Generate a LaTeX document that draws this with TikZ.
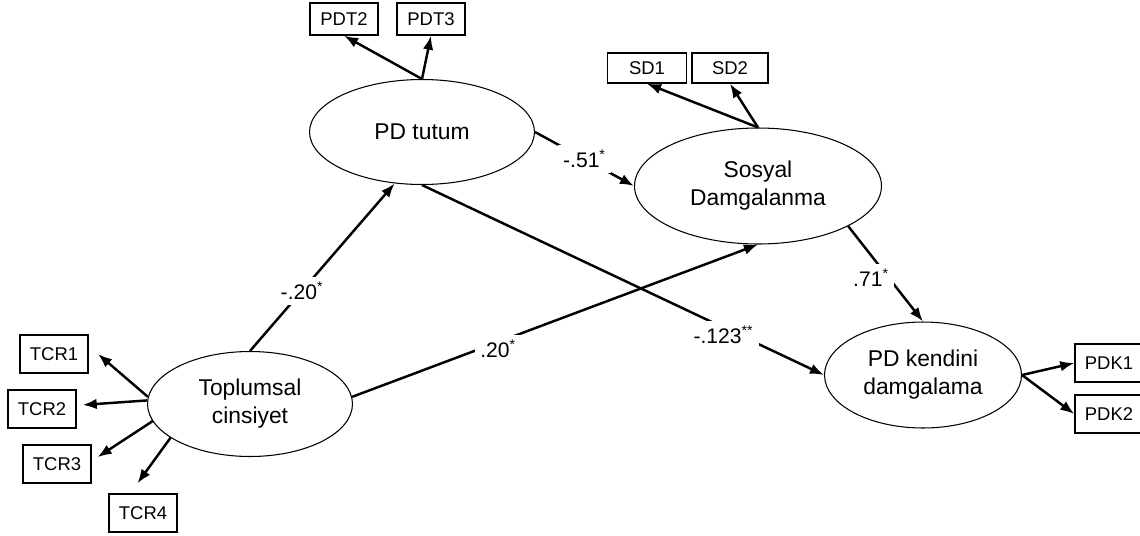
\documentclass[tikz,border=0pt]{standalone}
\usepackage{fontspec}
\setmainfont{Liberation Sans}
\usetikzlibrary{shapes.geometric,arrows.meta}

\begin{document}
\begin{tikzpicture}[x=0.02cm,y=-0.02cm,>={Latex[length=8pt,width=6pt]}]

        \useasboundingbox (0,0) rectangle (1140,535);

        \begin{scope}[every node/.style={ellipse,draw,line width=0.6pt,align=center,inner sep=0pt,font=\fontsize{13}{16}\selectfont}]
          \node[minimum width=4.5cm,minimum height=2.1cm]   (tutum)    at (422,132) {PD tutum};
          \node[minimum width=4.94cm,minimum height=2.32cm] (sosyal)   at (758,186) {Sosyal\\Damgalanma};
          \node[minimum width=4.1cm,minimum height=2.1cm]   (cinsiyet) at (250,404) {Toplumsal\\cinsiyet};
          \node[minimum width=3.94cm,minimum height=2.12cm] (kendini)  at (923,375) {PD kendini\\damgalama};
        \end{scope}

        \begin{scope}[every node/.style={draw,line width=0.8pt,inner sep=0pt,minimum width=1.36cm,minimum height=0.76cm,font=\fontsize{10.5}{12}\selectfont}]
          \node[minimum height=0.64cm] (PDT2) at (344,19)  {PDT2};
          \node[minimum height=0.64cm] (PDT3) at (431,19)  {PDT3};
          \node[minimum width=1.58cm,minimum height=0.6cm] (SD1) at (647,68) {SD1};
          \node[minimum width=1.52cm,minimum height=0.6cm] (SD2) at (730,68) {SD2};
          \node (TCR1) at (54,354)   {TCR1};
          \node (TCR2) at (42,409)   {TCR2};
          \node (TCR3) at (57,464)   {TCR3};
          \node (TCR4) at (143,513)  {TCR4};
          \node (PDK1) at (1109,363) {PDK1};
          \node (PDK2) at (1109,414) {PDK2};
        \end{scope}

        \begin{scope}[every node/.style={fill=white,inner sep=3pt,font=\fontsize{12}{14}\selectfont}]

          \begin{scope}[every edge/.style={draw,->,line width=1.4pt}]
            \path (tutum.north)    edge (PDT2.south);
            \path (tutum.north)    edge (PDT3.south);
            \path (sosyal.north)   edge (SD1.south);
            \path (sosyal.north)   edge (SD2.south);
            \path (cinsiyet.176)   edge[shorten >=7pt] (TCR1.13);
            \path (cinsiyet.178)   edge[shorten >=3.4pt] (TCR2.6);
            \path (cinsiyet.190)   edge[shorten >=4pt] (TCR3.5);
            \path (cinsiyet.203)   edge[shorten >=7pt] (TCR4.123);
            \path (kendini.east)   edge (PDK1.west);
            \path (kendini.east)   edge (PDK2.west);
            \path (cinsiyet.north) edge node[pos=.36] {-.20\textsuperscript{*}} (tutum.242);
            \path (tutum.east)     edge node {-.51\textsuperscript{*}} (sosyal.west);
            \path (cinsiyet.4)     edge node[pos=.36,yshift=-4pt] {.20\textsuperscript{*}} (sosyal.south);
            \path (tutum.south)    edge node[pos=.75,yshift=-4pt] {-.123\textsuperscript{**}} (kendini.west);
            \path (sosyal.336)     edge node[pos=.54,xshift=-10pt] {.71\textsuperscript{*}} (kendini.north);
          \end{scope}
        \end{scope}

      \end{tikzpicture}
\end{document}
